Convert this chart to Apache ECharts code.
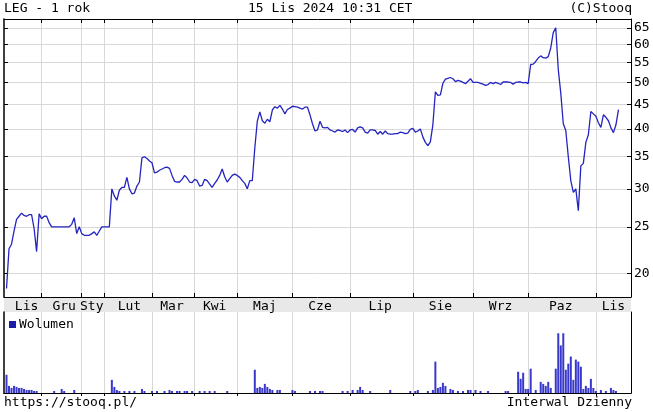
<!DOCTYPE html>
<html><head><meta charset="utf-8">
<script src="https://cdn.jsdelivr.net/npm/echarts@6/dist/echarts.min.js"></script>
<style>html,body{margin:0;padding:0;background:#fff}#c{width:653px;height:412px}</style>
</head><body><div id="c"></div>
<script>
// ---- data ----
const monthNames = ['Lis','Gru','Sty','Lut','Mar','Kwi','Maj','Cze','Lip','Sie','Wrz','Paz','Lis'];
const monthLabelIdx = [9, 24, 35, 50, 67, 84, 104, 126, 150, 174, 198, 222, 243];
const monthStarts = [15, 31, 40, 59, 76, 93, 115, 138, 163, 187, 209, 236];
const yTicks = [20, 25, 30, 35, 40, 45, 50, 55, 60, 65];
const prices = [null,
 18.6,22.5,23.0,24.5,25.9,26.3,26.7,26.4,26.3,26.5,
 26.5,24.8,22.2,26.6,26.0,26.3,26.3,25.5,25.0,25.0,
 25.0,25.0,25.0,25.0,25.0,25.0,25.3,26.1,24.2,25.0,
 24.2,24.0,24.0,24.0,24.2,24.4,24.0,24.5,25.0,25.0,
 25.0,25.0,30.0,29.0,28.4,29.8,30.2,30.2,31.7,30.0,
 29.3,29.4,30.4,31.0,34.8,35.0,34.7,34.3,34.0,32.4,
 32.5,32.8,33.0,33.2,33.3,33.1,32.0,31.1,31.0,31.0,
 31.4,32.0,31.6,31.0,30.9,31.4,31.2,30.4,30.5,31.4,
 31.2,30.7,30.2,30.8,31.3,32.0,33.0,31.8,31.0,31.5,
 32.0,32.2,32.0,31.7,31.2,30.8,30.0,31.2,31.2,36.5,
 41.5,43.4,41.6,41.1,41.9,41.4,43.8,44.5,44.2,44.8,
 44.0,43.0,43.9,44.2,44.6,44.5,44.4,44.2,44.0,44.4,
 44.4,42.8,41.0,39.6,39.8,41.5,40.3,40.2,40.3,39.8,
 39.6,39.4,39.8,39.7,39.5,39.8,39.3,39.8,39.9,39.4,
 40.2,40.4,40.2,39.4,39.2,39.8,39.8,39.7,39.0,39.5,
 39.0,39.6,39.1,39.0,39.0,39.1,39.1,39.4,39.3,39.1,
 39.2,39.9,40.1,39.4,39.6,40.0,38.5,37.5,36.9,37.6,
 40.8,47.8,47.0,47.1,49.8,50.8,51.0,51.2,50.9,50.2,
 50.5,50.3,50.0,49.7,50.3,50.9,50.0,50.0,50.0,49.8,
 49.6,49.3,49.5,50.0,49.7,50.0,49.8,49.5,50.1,50.1,
 50.1,50.0,49.6,50.0,50.1,50.1,49.9,50.0,49.7,54.5,
 54.6,55.3,56.2,56.8,56.3,56.2,56.6,59.0,63.5,65.0,
 53.2,47.5,41.0,39.7,35.0,31.2,29.5,30.0,27.0,33.5,
 33.9,37.5,38.9,43.5,43.0,42.5,41.2,40.3,42.8,42.3,
 41.6,40.2,39.3,40.8,43.9,
 null,null,null,null,null];
const volumes = [0,
 18,7,5,7,6,5,5,4,3,3,
 3,2,2,0,0,0,0,0,0,2,
 0,0,4,2,0,0,0,3,0,0,
 0,0,0,0,0,0,0,0,0,0,
 0,0,13,6,3,2,0,2,0,2,
 0,2,0,0,4,2,0,0,2,0,
 2,0,0,2,0,3,2,0,2,2,
 0,2,2,0,2,0,0,2,0,2,
 0,2,0,2,0,0,0,0,2,0,
 0,0,0,0,0,0,0,0,0,23,
 5,6,5,9,6,4,3,0,3,3,
 0,0,0,0,3,2,0,0,0,0,
 0,2,0,2,0,2,2,0,0,0,
 0,0,0,0,2,0,2,0,3,0,
 3,6,3,0,0,2,0,0,0,0,
 0,0,0,3,0,0,0,0,0,0,
 0,2,0,2,3,0,0,0,2,0,
 3,31,5,6,10,7,0,4,3,0,
 2,0,2,0,3,3,0,3,0,2,
 0,0,2,0,0,0,0,0,0,2,
 2,0,0,0,21,14,20,4,4,24,
 0,3,0,11,9,7,11,5,0,24,
 59,47,59,23,29,36,13,33,31,26,
 4,7,5,14,5,2,0,3,0,2,
 0,5,3,2,0,
 0,0,0,0,0];
const slots = prices.map((_, i) => String(i));

// ---- chart ----
const FONT = 'DejaVu Sans Mono';
const startSet = new Set(monthStarts);
const labelMap = new Map(monthLabelIdx.map((v, k) => [v, monthNames[k]]));
const isStart = (i) => startSet.has(i);
const BLUE = '#2424c0';
const GRID = '#d8d8d8';

const chart = echarts.init(document.getElementById('c'), null, {renderer: 'canvas'});
const catAxis = (extra) => Object.assign({
  type: 'category', data: slots, boundaryGap: false,
  axisLine: {show: true, lineStyle: {color: '#000', width: 1}},
  axisTick: {show: false},
  axisLabel: {show: false},
  splitLine: {show: false}
}, extra);
const logAxis = (extra) => Object.assign({
  type: 'log', logBase: 10, min: 17.85, max: 67.8, gridIndex: 0,
  axisLine: {show: true, lineStyle: {color: '#000', width: 1}},
  axisTick: {show: true, inside: true, length: 4, customValues: yTicks, lineStyle: {color: '#000'}},
  axisLabel: {show: false},
  splitLine: {show: false}
}, extra);

chart.setOption({
  animation: false,
  backgroundColor: '#fff',
  textStyle: {fontFamily: FONT},
  grid: [
    {left: 4, right: 22, top: 19, bottom: 115},
    {left: 4, right: 22, top: 312, bottom: 19}
  ],
  legend: {
    data: [{name: 'Wolumen', itemStyle: {color: '#1c1ca8'}}], left: 9, top: 318, padding: 0,
    icon: 'rect', itemWidth: 7, itemHeight: 7, itemGap: 3,
    textStyle: {fontFamily: FONT, fontSize: 13, color: '#000', padding: [0, 0, 0, -2]}
  },
  xAxis: [
    catAxis({gridIndex: 0, position: 'bottom',
      axisTick: {show: true, inside: true, length: 4, interval: isStart, lineStyle: {color: '#000'}},
      splitLine: {show: true, interval: isStart, lineStyle: {color: GRID, width: 1}},
      axisLabel: {show: true, interval: (i) => labelMap.has(i),
        formatter: (v) => labelMap.get(Number(v)) || '',
        margin: 3, fontFamily: FONT, fontSize: 13, color: '#000'}
    }),
    catAxis({gridIndex: 0, position: 'top',
      axisTick: {show: true, inside: true, length: 4, interval: isStart, lineStyle: {color: '#000'}}
    }),
    catAxis({gridIndex: 1, position: 'bottom',
      splitLine: {show: true, interval: isStart, lineStyle: {color: GRID, width: 1}}
    }),
    catAxis({gridIndex: 1, position: 'top',
      axisTick: {show: true, inside: true, length: 3, interval: isStart, lineStyle: {color: '#000'}}
    })
  ],
  yAxis: [
    logAxis({position: 'right',
      axisLabel: {show: true, customValues: yTicks, margin: 3, fontFamily: FONT, fontSize: 13, color: '#000'},
      splitLine: {show: true, lineStyle: {color: GRID, width: 1}}
    }),
    logAxis({position: 'left', axisLine: {show: true, lineStyle: {color: '#000', width: 1.5}}}),
    {type: 'value', gridIndex: 1, min: 0, max: 80, position: 'left',
      axisLine: {show: true, onZero: false, lineStyle: {color: '#000', width: 1.5}},
      axisTick: {show: false}, axisLabel: {show: false}, splitLine: {show: false}},
    {type: 'value', gridIndex: 1, min: 0, max: 80, position: 'right',
      axisLine: {show: true, onZero: false, lineStyle: {color: '#000'}},
      axisTick: {show: false}, axisLabel: {show: false}, splitLine: {show: false}}
  ],
  series: [
    {type: 'line', name: 'LEG', xAxisIndex: 0, yAxisIndex: 0, data: prices,
      showSymbol: false, connectNulls: false,
      lineStyle: {color: BLUE, width: 1.3}, itemStyle: {color: BLUE}},
    {type: 'bar', name: 'Wolumen', xAxisIndex: 2, yAxisIndex: 2, data: volumes,
      barWidth: 2, itemStyle: {color: '#3838cc'}}
  ],
  graphic: [
    {type: 'rect', z: -10, shape: {x: 4, y: 297, width: 627, height: 15}, style: {fill: '#e8e8e8'}},
    {type: 'text', x: 4, y: 9, style: {text: 'LEG - 1 rok', font: '13px "DejaVu Sans Mono"', fill: '#000', textVerticalAlign: 'middle'}},
    {type: 'text', x: 248, y: 9, style: {text: '15 Lis 2024 10:31 CET', font: '13px "DejaVu Sans Mono"', fill: '#000', textVerticalAlign: 'middle'}},
    {type: 'text', x: 632, y: 9, style: {text: '(C)Stooq', font: '13px "DejaVu Sans Mono"', fill: '#000', textAlign: 'right', textVerticalAlign: 'middle'}},
    {type: 'text', x: 4, y: 403, style: {text: 'https://stooq.pl/', font: '13px "DejaVu Sans Mono"', fill: '#000', textVerticalAlign: 'middle'}},
    {type: 'text', x: 632, y: 403, style: {text: 'Interwal Dzienny', font: '13px "DejaVu Sans Mono"', fill: '#000', textAlign: 'right', textVerticalAlign: 'middle'}}
  ]
});
</script></body></html>
